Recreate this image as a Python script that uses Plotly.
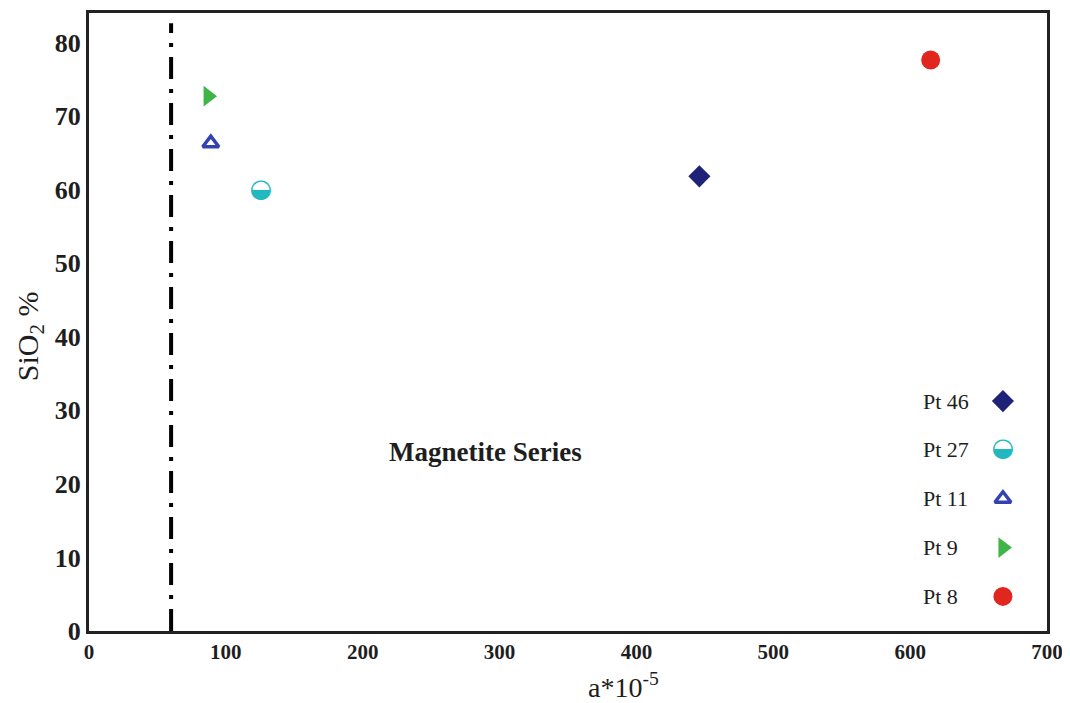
import plotly.graph_objects as go

# Data
labels = ["Pt 46", "Pt 27", "Pt 11", "Pt 9", "Pt 8"]
x_vals = [446, 125.5, 89, 87, 615]
y_vals = [61.8, 59.9, 66.3, 72.7, 77.6]
colors = ["#1f2378", "#22b8c0", "#3442b0", "#3fb548", "#e0261f"]
symbols = ["diamond", None, "triangle-up-open", "triangle-right", "circle"]
sizes = [17, 0, 14, 18, 19]

boundary_x = 60
boundary_y = [0, 82.6]
x_ticks = [0, 100, 200, 300, 400, 500, 600, 700]
y_ticks = [0, 10, 20, 30, 40, 50, 60, 70, 80]

SERIF = "Liberation Serif, Times New Roman, serif"
INK = "#1e1e1e"

fig = go.Figure()

# boundary dash-dot line
fig.add_trace(go.Scatter(
    x=[boundary_x, boundary_x], y=boundary_y, mode="lines",
    line=dict(color="black", width=4, dash="22px,10px,4px,10px"),
    showlegend=False, hoverinfo="skip"))

# legend positions (overlay axis, 0..1)
leg_x = 0.954
leg_y0 = 0.372
leg_step = 0.079

for i, lab in enumerate(labels):
    ly = leg_y0 - i * leg_step
    if symbols[i] is None:
        # half-filled circle glyph
        for xx, yy, xa, ya in [(x_vals[i], y_vals[i], "x", "y"), (leg_x, ly, "x2", "y2")]:
            fig.add_trace(go.Scatter(
                x=[xx], y=[yy], mode="text", text=["\u25D2"],
                textfont=dict(family="DejaVu Sans", size=26, color=colors[i]),
                textposition="middle center", xaxis=xa, yaxis=ya, showlegend=False))
    else:
        lw = 3.5 if "open" in symbols[i] else 0
        for xx, yy, xa, ya in [(x_vals[i], y_vals[i], "x", "y"), (leg_x, ly, "x2", "y2")]:
            fig.add_trace(go.Scatter(
                x=[xx], y=[yy], mode="markers",
                marker=dict(symbol=symbols[i], size=sizes[i], color=colors[i],
                            line=dict(width=lw, color=colors[i])),
                xaxis=xa, yaxis=ya, showlegend=False))
    fig.add_annotation(x=0.868, y=ly, xref="paper", yref="paper", text=lab,
                       showarrow=False, xanchor="left", yanchor="middle",
                       font=dict(family=SERIF, size=22, color=INK))

fig.add_annotation(x=290, y=24.3, xref="x", yref="y", text="<b>Magnetite Series</b>",
                   showarrow=False, font=dict(family=SERIF, size=27, color=INK))

# axis titles
fig.add_annotation(x=0.558, y=0, xref="paper", yref="paper", yshift=-54,
                   text="a*10<sup>-5</sup>", showarrow=False, yanchor="middle",
                   font=dict(family=SERIF, size=28, color=INK))
fig.add_annotation(x=0, y=0.477, xref="paper", yref="paper", xshift=-59,
                   text="SiO<sub>2</sub> %", showarrow=False, textangle=-90,
                   xanchor="center", yanchor="middle",
                   font=dict(family=SERIF, size=30, color=INK))

fig.update_layout(
    width=1062, height=695,
    margin=dict(l=81, r=23, t=2, b=72),
    paper_bgcolor="white", plot_bgcolor="white",
    xaxis=dict(range=[0, 700], tickvals=x_ticks, showgrid=False, zeroline=False,
               showline=True, linecolor="#222", linewidth=3, mirror=True, ticks="",
               tickfont=dict(family=SERIF, size=21, color=INK, weight="bold")),
    yaxis=dict(range=[0, 84], tickvals=y_ticks, showgrid=False, zeroline=False,
               showline=True, linecolor="#222", linewidth=3, mirror=True, ticks="",
               tickfont=dict(family=SERIF, size=26, color=INK, weight="bold")),
    xaxis2=dict(range=[0, 1], overlaying="x", visible=False),
    yaxis2=dict(range=[0, 1], overlaying="y", visible=False),
    showlegend=False,
)

fig.write_html("out.html")
